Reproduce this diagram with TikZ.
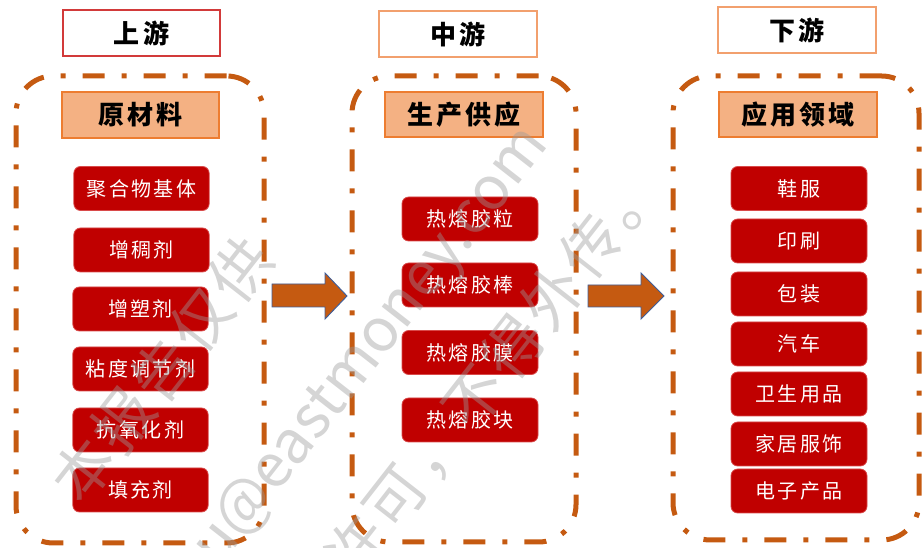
\documentclass[tikz,border=0pt]{standalone}
\usepackage{fontspec}
\newfontfamily\cjk[LetterSpace=12]{Noto Sans CJK SC}
\newfontfamily\wmfont[LetterSpace=6]{Noto Sans CJK SC}
\newfontfamily\wmlatin{Noto Sans CJK SC}
\definecolor{dashorange}{HTML}{C55A11}
\definecolor{boxred}{HTML}{C00000}
\definecolor{boxedge}{HTML}{D94A4A}
\definecolor{subfill}{HTML}{F4B183}
\definecolor{subedge}{HTML}{ED7D31}
\definecolor{hdrred}{HTML}{D23A3A}
\definecolor{hdrorange}{HTML}{F2A06E}
\definecolor{arrowedge}{HTML}{3E5E9A}
\definecolor{wmgray}{HTML}{9A9A9A}
\begin{document}
\begin{tikzpicture}[x=0.75pt,y=-0.75pt,
  hdr/.style={draw, line width=1.1pt, fill=white, minimum width=118.5pt, minimum height=34.5pt, inner sep=0pt, font=\cjk\bfseries\fontsize{19.5}{22}\selectfont},
  subhdr/.style={draw=subedge, fill=subfill, line width=1.1pt, minimum width=118.5pt, minimum height=34pt, inner sep=0pt, font=\cjk\bfseries\fontsize{19.5}{22}\selectfont},
  redbox/.style={fill=boxred, draw=boxedge, line width=0.6pt, rounded corners=5pt, text=white, minimum width=101.5pt, minimum height=33pt, inner sep=0pt, font=\cjk\fontsize{15}{18}\selectfont},
  group/.style={draw=dashorange, line width=3.75pt, dash pattern=on 16.5pt off 12.75pt on 3.75pt off 12.75pt, rounded corners=28pt, minimum width=#1, inner sep=0pt},
  blockarrow/.style={fill=dashorange, draw=arrowedge, line width=0.7pt},
  wm/.style={text=wmgray, opacity=0.42, font=\wmfont\fontsize{45}{50}\selectfont, rotate=52, inner sep=0pt}
]
\useasboundingbox (0,0) rectangle (922,548);

% dashed groups
\node[group=186pt, minimum height=350.25pt] (grpL) at (140,309.5) {};
\node[group=168pt, minimum height=349.5pt] (grpM) at (464,309) {};
\node[group=184.5pt, minimum height=348pt] (grpR) at (796,308) {};

% headers
\node[hdr, draw=hdrred, minimum width=117.75pt] (up) at (141.5,33) {上游};
\node[hdr, draw=hdrorange] (mid) at (458,34) {中游};
\node[hdr, draw=hdrorange] (down) at (797,30) {下游};

% sub headers
\node[subhdr, minimum width=117.75pt, minimum height=34.5pt] (raw) at (140.5,115) {原材料};
\node[subhdr] (prod) at (464,114.5) {生产供应};
\node[subhdr] (app) at (798,114.5) {应用领域};

% left column
\node[redbox] (l1) at (141.5,188.5) {聚合物基体};
\node[redbox] (l2) at (141.5,250) {增稠剂};
\node[redbox] (l3) at (140.5,309) {增塑剂};
\node[redbox] (l4) at (140.5,369) {粘度调节剂};
\node[redbox] (l5) at (140.5,430) {抗氧化剂};
\node[redbox] (l6) at (140.5,490) {填充剂};

% middle column
\node[redbox, minimum width=102pt] (m1) at (470,219) {热熔胶粒};
\node[redbox, minimum width=102pt] (m2) at (470,285) {热熔胶棒};
\node[redbox, minimum width=102pt] (m3) at (470,352.5) {热熔胶膜};
\node[redbox, minimum width=102pt] (m4) at (470,420) {热熔胶块};

% right column
\node[redbox, minimum width=102pt] (r1) at (799,188.5) {鞋服};
\node[redbox, minimum width=102pt] (r2) at (799,241) {印刷};
\node[redbox, minimum width=102pt] (r3) at (799,294) {包装};
\node[redbox, minimum width=102pt] (r4) at (799,344) {汽车};
\node[redbox, minimum width=102pt] (r5) at (799,394) {卫生用品};
\node[redbox, minimum width=102pt] (r6) at (799,444) {家居服饰};
\node[redbox, minimum width=102pt] (r7) at (799,491) {电子产品};

% block arrows
\draw[blockarrow] (272,284) -- (325,284) -- (325,273) -- (347,296) -- (325,319) -- (325,307) -- (272,307) -- cycle;
\draw[blockarrow] (588,285) -- (641,285) -- (641,273) -- (664,296) -- (641,319) -- (641,307) -- (588,307) -- cycle;

% watermark
\begin{scope}
\clip (0,0) rectangle (922,548);
\node[wm] (wm1) at (162,370) {本报告仅供};
\node[wm, font=\wmlatin\fontsize{45}{50}\selectfont] (wm2) at (362,362) {ou@eastmoney.com};
\node[wm] (wm3) at (494,372) {许可，不得外传。};
\end{scope}
\end{tikzpicture}
\end{document}
